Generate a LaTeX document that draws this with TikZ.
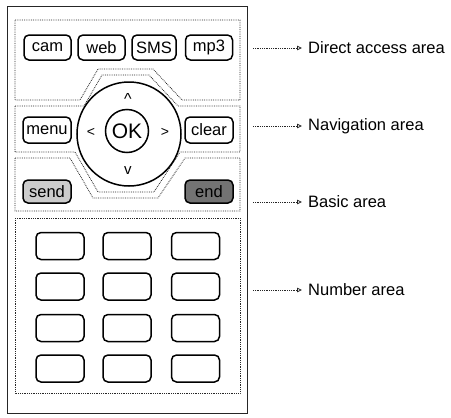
\documentclass[tikz,border=0pt]{standalone}
\usepackage{fontspec}
\setmainfont{Liberation Sans}
\usetikzlibrary{arrows.meta}

\begin{document}
\begin{tikzpicture}[x=1pt,y=-1pt,
	taste/.style={draw,line width=1.5pt,rounded corners=5pt,inner sep=0pt,minimum width=47pt,minimum height=25pt,font=\fontsize{16.5}{17}\selectfont},
	bereich/.style={draw=black!85,line width=0.8pt,dash pattern=on 0.8pt off 1pt},
	pfeil/.style={draw=black!85,line width=0.8pt,dash pattern=on 0.8pt off 1pt,-{Triangle[open,length=5pt,width=4.5pt]},shorten >=4pt},
	beschriftung/.style={anchor=west,inner sep=2pt,font=\fontsize{16.5}{18}\selectfont}]
	\useasboundingbox (0,0) rectangle (451,418);
	%Gehaeuse
	\draw [black!85,line width=0.9pt] (7,6) rectangle (247,413);
	% Bereiche
	\draw [bereich] (15,20) -- (240,20) -- (240,100) -- (182,100) -- (153,69) -- (98,69) -- (80,100) -- (15,100) -- cycle;
	\draw [bereich] (15,106) -- (84,106) -- (102,75) -- (149,75) -- (178,106) -- (240,106) -- (240,152) -- (180,152) -- (154,192) -- (98,192) -- (75,152) -- (15,152) -- cycle;
	\draw [bereich] (15,158) -- (70,158) -- (93,198) -- (158,198) -- (185,158) -- (240,158) -- (240,211) -- (15,211) -- cycle;
	\draw [bereich] (15,218) rectangle (240,393);
	% Direktwahl
	\node [taste] (cam) at (47.5,47.5) {cam};
	\node [taste] (web) at (101.5,47.5) {web};
	\node [taste,minimum width=44pt] (sms) at (154,47.5) {SMS};
	\node [taste] (mp3) at (209,47.5) {mp3};
	% Navigation
	\draw [line width=1.5pt] (129,134) circle [radius=52];
	\node [circle,draw,line width=1.5pt,minimum size=43pt,inner sep=0pt,font=\fontsize{21}{21}\selectfont] (ok) at (127,131) {OK};
	\node [font=\fontsize{16}{16}\selectfont] (hoch) at (128,99) {\textasciicircum};
	\node [font=\fontsize{14}{14}\selectfont] (links) at (91,132) {<};
	\node [font=\fontsize{14}{14}\selectfont] (rechts) at (165,132) {>};
	\node [font=\fontsize{15}{15}\selectfont] (runter) at (128,171) {v};
	\node [taste,minimum width=48pt,minimum height=26pt] (menu) at (47,130) {menu};
	\node [taste,minimum width=48pt,minimum height=26pt] (clear) at (209,130) {clear};
	% Grundtasten
	\node [taste,minimum width=48pt,minimum height=23pt,fill=black!20] (send) at (47,191.5) {send};
	\node [taste,minimum width=48pt,minimum height=23pt,fill=black!55] (end) at (209,191.5) {end};
	% Zifferntasten
	\foreach \zeile/\y in {1/246,2/286.5,3/328,4/368.5}
		\foreach \spalte/\x in {1/60,2/127,3/195.5}
			\node [taste,minimum width=48pt,minimum height=27pt] (z-\zeile-\spalte) at (\x,\y) {};
	% Beschriftungen
	\node [beschriftung] (lDirekt) at (306,48) {Direct access area};
	\node [beschriftung] (lNavi) at (306,126) {Navigation area};
	\node [beschriftung] (lBasis) at (306,202) {Basic area};
	\node [beschriftung] (lZiffer) at (306,290) {Number area};
	\coordinate (direkt) at (253,48);
	\coordinate (navi) at (253,126);
	\coordinate (basis) at (253,202);
	\coordinate (ziffer) at (253,290);
	\draw [pfeil] (direkt) -- (lDirekt.west);
	\draw [pfeil] (navi) -- (lNavi.west);
	\draw [pfeil] (basis) -- (lBasis.west);
	\draw [pfeil] (ziffer) -- (lZiffer.west);
\end{tikzpicture}
\end{document}
